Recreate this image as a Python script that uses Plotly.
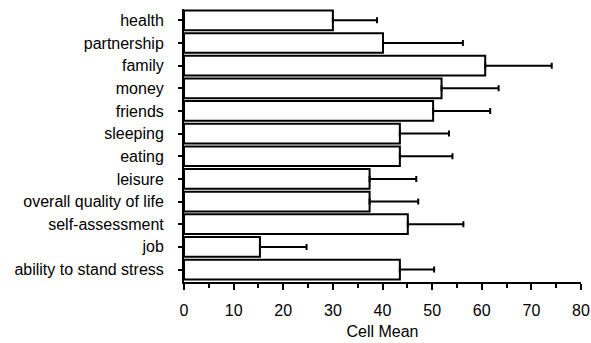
import plotly.graph_objects as go

categories = ["health", "partnership", "family", "money", "friends", "sleeping",
              "eating", "leisure", "overall quality of life", "self-assessment",
              "job", "ability to stand stress"]
means = [30.0, 40.1, 60.7, 51.9, 50.2, 43.5, 43.5, 37.4, 37.4, 45.1, 15.3, 43.5]
errors = [8.9, 16.1, 13.4, 11.5, 11.5, 9.9, 10.6, 9.4, 9.8, 11.2, 9.4, 6.9]
x_ticks = [0, 10, 20, 30, 40, 50, 60, 70, 80]

font_family = "Liberation Sans, Arial, sans-serif"

fig = go.Figure(go.Bar(
    x=means, y=categories, orientation="h",
    marker=dict(color="white", line=dict(color="black", width=2)),
    error_x=dict(type="data", array=errors, arrayminus=[0] * len(errors),
                 symmetric=False, color="black", thickness=2, width=3),
    hoverinfo="skip",
))

fig.update_layout(
    width=591, height=343,
    margin=dict(l=184, r=10, t=9, b=61, autoexpand=False),
    plot_bgcolor="white", paper_bgcolor="white",
    bargap=0.13, showlegend=False,
    font=dict(family=font_family, size=16, color="black"),
)
fig.update_xaxes(
    range=[0, 80], tickvals=x_ticks, ticktext=[str(v) for v in x_ticks],
    showgrid=False, zeroline=False,
    showline=True, linecolor="black", linewidth=2,
    ticks="outside", ticklen=6, tickwidth=1.5, tickcolor="black",
    minor=dict(dtick=5, ticks="outside", ticklen=4, tickwidth=1.5, tickcolor="black"),
    ticklabelstandoff=7,
    title=dict(text="Cell Mean", font=dict(size=16), standoff=8),
    tickfont=dict(size=16),
)
fig.update_yaxes(
    categoryorder="array", categoryarray=categories,
    range=[11.55, -0.5],
    showgrid=False, zeroline=False,
    showline=True, linecolor="black", linewidth=2,
    ticks="outside", ticklen=4, tickwidth=1.5, tickcolor="black",
    ticklabelstandoff=11,
    tickfont=dict(size=16),
)

fig.write_html("out.html", config={"displayModeBar": False},
               post_script="document.body.style.margin='0';")
